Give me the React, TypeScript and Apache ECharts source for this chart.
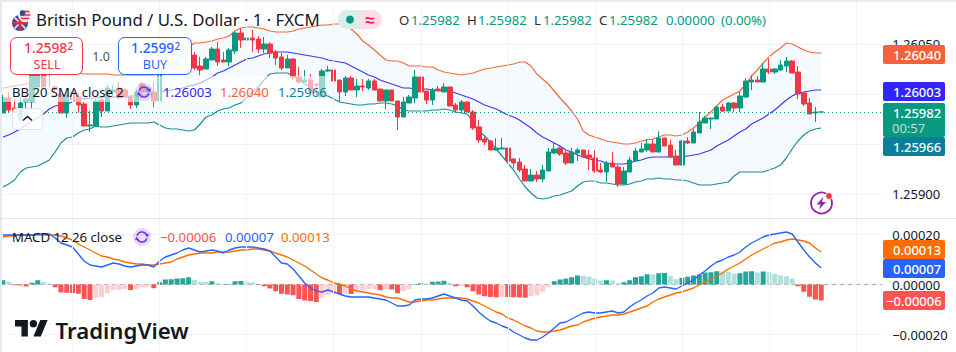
import React, { useEffect, useRef } from "react";
import * as echarts from "echarts";

// Prices are stored as points (1e-5) above PRICE_BASE; MACD values in units of 1e-6.
const PRICE_BASE = 1.258;
const ohlcPoints: number[][] = [
[181,196,181,199],[196,184,181,202],[186,182,180,195],[174,191,172,197],[192,195,182,199],[192,224,184,226],[207,226,207,228],[224,207,207,228],[224,226,207,228],[207,205,202,209],
[200,181,181,204],[181,199,176,206],[202,194,194,206],[197,189,181,201],[190,168,168,192],[168,169,162,183],[168,193,168,195],[194,183,177,197],[183,206,183,209],[202,204,198,209],
[206,196,196,212],[204,197,197,206],[197,189,185,198],[189,202,186,204],[210,202,200,212],[202,206,200,208],[202,193,187,212],[193,224,193,226],[224,232,222,236],[234,226,224,238],
[226,239,224,242],[236,244,234,247],[244,238,236,247],[239,226,224,242],[228,224,219,237],[225,235,225,237],[234,245,234,247],[245,232,228,252],[234,232,232,242],[232,244,228,246],
[243,261,240,263],[261,254,246,266],[254,256,243,266],[256,254,242,264],[255,245,241,258],[245,250,241,257],[250,241,236,252],[242,236,229,244],[237,226,224,241],[226,235,226,239],
[235,217,214,236],[217,212,210,227],[212,214,212,224],[214,202,199,220],[210,209,197,210],[197,223,197,225],[223,224,222,228],[224,213,213,228],[214,202,192,214],[202,216,198,218],
[216,204,204,218],[204,208,197,215],[208,207,203,215],[206,213,204,215],[213,204,204,215],[205,193,193,205],[193,204,185,204],[204,193,193,204],[193,177,164,193],[177,192,177,197],
[191,197,191,199],[196,217,191,224],[217,202,202,217],[203,194,190,203],[194,204,189,206],[205,203,203,208],[202,207,202,211],[207,188,188,207],[189,184,181,191],[184,192,181,194],
[192,182,182,192],[182,166,164,184],[167,154,151,174],[155,152,149,157],[153,144,144,154],[144,146,144,156],[145,146,145,156],[146,133,133,146],[135,131,126,136],[132,124,122,136],
[125,113,113,129],[113,119,113,125],[119,115,112,123],[115,124,112,129],[123,142,123,146],[141,145,140,151],[146,140,138,148],[141,131,129,143],[131,142,131,146],[141,144,133,146],
[144,137,137,144],[139,136,124,144],[136,123,121,144],[124,122,121,131],[122,131,112,133],[131,127,127,142],[127,110,107,129],[110,123,110,127],[122,134,122,137],[133,143,133,146],
[142,145,142,151],[144,150,142,155],[150,142,142,155],[142,156,142,163],[156,148,148,156],[149,137,137,154],[138,129,129,144],[129,153,129,154],[153,151,150,157],[151,162,151,165],
[161,172,161,182],[171,176,171,178],[175,176,165,176],[175,187,175,188],[187,183,182,190],[183,191,183,192],[191,186,182,192],[186,198,182,202],[197,213,196,216],[212,214,204,219],
[214,212,212,218],[212,225,212,231],[225,222,220,235],[222,225,220,226],[224,229,223,234],[228,233,222,237],[233,221,221,234],[222,200,195,228],[201,190,188,202],[191,180,180,196],
[181,182,172,187],[182,182,182,182],
];
const bbUpperPoints = [
206,207,208,209,210,212,215,218,220,221,
222,222,221,221,220,220,220,220,220,219,
219,219,219,219,219,219,219,222,226,232,
236,242,247,251,251,252,253,255,256,258,
263,266,267,267,266,265,263,262,262,262,
263,265,266,267,268,269,269,270,270,269,
265,260,253,249,244,239,234,233,233,231,
228,228,228,227,227,224,222,221,220,219,
220,221,223,225,226,227,228,229,230,232,
232,228,220,215,210,203,196,190,183,175,
163,159,157,155,153,152,151,150,150,151,
153,154,155,157,159,159,158,159,162,166,
171,177,182,188,194,197,200,203,210,218,
224,231,237,242,246,251,250,247,244,242,
241,241];
const bbBasisPoints = [
157,159,162,165,169,173,176,180,185,188,
189,190,192,195,195,196,196,197,197,197,
197,197,198,198,199,199,201,202,203,204,
205,206,208,209,211,214,217,221,223,226,
229,232,235,236,238,240,241,242,242,242,
241,240,239,238,237,236,234,233,232,231,
228,225,222,219,217,214,212,210,208,206,
206,205,205,205,204,204,204,203,201,199,
197,195,192,189,187,185,182,179,177,174,
170,166,161,157,154,151,148,144,142,139,
137,135,134,133,131,130,130,130,131,133,
134,136,137,137,137,137,137,137,138,139,
140,142,144,148,151,154,158,162,165,170,
173,176,180,184,189,194,198,201,202,203,
204,204];
const bbLowerPoints = [
107,110,114,122,126,127,128,131,134,142,
151,156,157,161,164,165,168,167,167,168,
169,170,171,171,171,171,172,169,166,165,
165,164,163,164,170,177,179,183,185,186,
189,191,196,202,207,214,220,221,221,221,
218,214,210,207,203,199,198,195,192,191,
190,189,189,190,190,191,191,190,188,184,
183,183,183,183,184,184,185,184,182,181,
180,172,163,158,152,145,138,131,124,115,
107,101,96,95,96,98,99,101,103,108,
112,113,113,111,111,110,109,109,110,112,
113,115,115,116,115,115,114,114,113,111,
109,109,109,110,111,112,118,122,122,122,
122,122,124,126,129,136,145,153,159,163,
165,166];
const macdLine = [
198,198,198,198,198,198,202,202,202,186,
166,158,150,122,94,78,74,70,78,86,
82,74,70,74,78,78,70,94,110,118,
126,138,146,138,130,134,138,134,126,138,
146,150,150,150,146,142,134,110,86,82,
62,34,6,-14,-26,-30,-22,-30,-38,-46,
-50,-50,-50,-50,-54,-58,-62,-74,-86,-86,
-82,-62,-58,-58,-54,-46,-38,-46,-54,-62,
-66,-86,-110,-130,-146,-154,-166,-174,-190,-202,
-214,-222,-222,-210,-194,-174,-154,-150,-138,-126,
-114,-110,-114,-114,-110,-106,-114,-110,-90,-74,
-62,-46,-34,-14,-10,-14,-18,-6,6,18,
38,54,74,90,98,110,118,130,150,166,
178,190,198,202,206,210,202,170,138,110,
86,66];
const signalLine = [
190,194,194,198,198,198,198,198,198,198,
194,186,178,162,150,138,126,114,110,102,
98,90,86,82,82,78,78,82,86,90,
102,110,118,122,126,126,126,130,130,130,
134,138,138,142,142,138,134,126,118,110,
98,86,74,58,42,26,18,6,2,-6,
-18,-26,-30,-34,-38,-42,-50,-54,-54,-62,
-70,-70,-66,-62,-62,-58,-54,-54,-54,-54,
-58,-66,-74,-86,-98,-110,-118,-134,-142,-154,
-166,-174,-186,-190,-190,-186,-182,-174,-166,-162,
-150,-142,-134,-130,-126,-122,-122,-118,-110,-102,
-94,-86,-70,-58,-50,-42,-34,-30,-22,-14,
-2,10,22,34,46,62,74,86,102,118,
130,142,154,166,170,178,182,178,174,166,
146,130];
const histogram = [
17,11,-3,-4,-8,7,17,9,4,-11,
-32,-33,-34,-37,-58,-62,-53,-50,-34,-22,
-21,-18,-22,-18,-11,-9,-15,9,20,21,
24,25,29,19,11,10,13,5,-1,2,
13,14,11,8,-1,-7,-16,-27,-37,-40,
-43,-58,-64,-66,-70,-53,-43,-37,-38,-37,
-38,-24,-23,-19,-18,-23,-19,-20,-35,-27,
-19,2,5,4,11,12,15,5,-7,-6,
-11,-27,-40,-47,-50,-51,-49,-50,-51,-52,
-53,-47,-43,-29,-11,13,20,24,29,36,
35,32,24,16,17,16,5,9,17,29,
33,41,40,45,46,33,21,27,31,36,
40,48,49,53,52,51,44,45,52,53,
48,52,49,43,37,33,23,-7,-29,-49,
-60,-64];
const BLANK_BARS = 10;
const verticalGridBars = [12, 27, 42, 57, 72, 87, 102, 117, 132, 147];
const LAST_PRICE = 1.25982;
const coveredPriceTicks = ["1.26000", "1.25950"];
const priceTags = [
  { text: "1.26040", top: 45, h: 19, bg: "#f56138" },
  { text: "1.26003", top: 82, h: 19, bg: "#3024ff" },
  { text: "1.25966", top: 137, h: 19, bg: "#0b7f99" },
];
const macdTags = [
  { text: "0.00013", top: 240, h: 19, bg: "#ff6d00" },
  { text: "0.00007", top: 259, h: 19, bg: "#2962ff" },
  { text: "\u22120.00006", top: 291, h: 19, bg: "#ff5252" },
];

const FONT = '"Noto Sans", sans-serif';
const UP = "#089981";
const DOWN = "#f23645";
const GRID = "#f0f3fa";

echarts.graphic.registerShape(
  "tvlogo",
  echarts.graphic.extendPath("M14 22H7V11H0V4h14v18zM28 22h-8l7.5-18h8L28 22zM24 8a4 4 0 1 1-8 0a4 4 0 1 1 8 0z", {}) as any
);

function t(text: string, x: number, y: number, fill: string, size = 13, extra: any = {}) {
  const { align, weight, opacity, z, spacing } = extra;
  return {
    type: "text", x, y, z: z ?? 110, silent: true,
    style: {
      text, fill, opacity: opacity ?? 1, textAlign: align ?? "left", textVerticalAlign: "middle",
      font: `${weight ?? 400} ${size}px ${FONT}`, ...(spacing ? { letterSpacing: spacing } : {}),
    },
  };
}
function box(x: number, y: number, w: number, h: number, fill: string, stroke?: string, r = 2, z = 105) {
  return {
    type: "rect", z, silent: true, shape: { x, y, width: w, height: h, r },
    style: { fill, stroke: stroke ?? "none", lineWidth: stroke ? 1 : 0 },
  };
}
function cycleIcon(cx: number, cy: number) {
  const stroke = "#7b2ff2";
  return [
    { type: "circle", z: 108, silent: true, shape: { cx, cy, r: 9 }, style: { fill: "rgba(126,87,194,0.2)" } },
    { type: "arc", z: 109, silent: true, shape: { cx, cy, r: 5, startAngle: 3.4, endAngle: 5.9 }, style: { fill: "none", stroke, lineWidth: 1.6 } },
    { type: "arc", z: 109, silent: true, shape: { cx, cy, r: 5, startAngle: 0.3, endAngle: 2.8 }, style: { fill: "none", stroke, lineWidth: 1.6 } },
    { type: "polygon", z: 109, silent: true, shape: { points: [[cx + 7, cy - 3], [cx + 3, cy - 3], [cx + 5.5, cy + 0.5]] }, style: { fill: stroke } },
    { type: "polygon", z: 109, silent: true, shape: { points: [[cx - 7, cy + 3], [cx - 3, cy + 3], [cx - 5.5, cy - 0.5]] }, style: { fill: stroke } },
  ];
}

function buildGraphics() {
  const out: any[] = [];
  // page edge
  out.push(box(0, 0, 956, 2, "#e8e9ec", undefined, 0, 120));
  out.push(box(0, 0, 2, 352, "#e8e9ec", undefined, 0, 120));
  out.push(box(0, 218, 956, 1, "#e0e3eb", undefined, 0, 90));
  // header flags
  out.push({ type: "circle", z: 110, silent: true, shape: { cx: 20, cy: 23, r: 8 }, style: { fill: "#2a4b9b" } });
  out.push({ type: "line", z: 111, silent: true, shape: { x1: 14.5, y1: 17.5, x2: 25.5, y2: 28.5 }, style: { stroke: "#f4c7cc", lineWidth: 2 } });
  out.push({ type: "line", z: 111, silent: true, shape: { x1: 25.5, y1: 17.5, x2: 14.5, y2: 28.5 }, style: { stroke: "#f4c7cc", lineWidth: 2 } });
  out.push({ type: "line", z: 111, silent: true, shape: { x1: 20, y1: 15, x2: 20, y2: 31 }, style: { stroke: "#d9313f", lineWidth: 2.5 } });
  out.push({ type: "line", z: 111, silent: true, shape: { x1: 12, y1: 23, x2: 28, y2: 23 }, style: { stroke: "#d9313f", lineWidth: 2.5 } });
  out.push({ type: "circle", z: 112, silent: true, shape: { cx: 25, cy: 15, r: 6.5 }, style: { fill: "#fff", stroke: "#fff", lineWidth: 1 } });
  out.push({ type: "circle", z: 113, silent: true, shape: { cx: 25, cy: 15, r: 5.5 }, style: { fill: "#f0d9dc" } });
  out.push({ type: "line", z: 114, silent: true, shape: { x1: 22, y1: 11.5, x2: 29.5, y2: 11.5 }, style: { stroke: "#d9313f", lineWidth: 1.4 } });
  out.push({ type: "line", z: 114, silent: true, shape: { x1: 20, y1: 15, x2: 30.5, y2: 15 }, style: { stroke: "#d9313f", lineWidth: 1.4 } });
  out.push({ type: "line", z: 114, silent: true, shape: { x1: 21, y1: 18.5, x2: 29.5, y2: 18.5 }, style: { stroke: "#d9313f", lineWidth: 1.4 } });
  out.push({ type: "circle", z: 115, silent: true, shape: { cx: 22.5, cy: 13, r: 2.8 }, style: { fill: "#2a4b9b" } });
  out.push(t("British Pound / U.S. Dollar \u00b7 1 \u00b7 FXCM", 36, 19.5, "#131722", 16.8));
  // status pill
  out.push({ type: "rect", z: 106, silent: true, shape: { x: 338, y: 10, width: 44, height: 19, r: 9.5 }, style: { fill: "#fbdde8" } });
  out.push({ type: "rect", z: 107, silent: true, shape: { x: 338, y: 10, width: 22, height: 19, r: [9.5, 0, 0, 9.5] }, style: { fill: "#d8eeea" } });
  out.push({ type: "circle", z: 108, silent: true, shape: { cx: 350, cy: 19.5, r: 4 }, style: { fill: UP } });
  out.push(t("\u2248", 370, 19, "#e91e63", 17, { align: "center", weight: 700 }));
  // OHLC row
  const labels: [string, number, string][] = [
    ["O", 399, "#2a2e39"], ["1.25982", 411, UP], ["H", 467, "#2a2e39"], ["1.25982", 478, UP],
    ["L", 534, "#2a2e39"], ["1.25982", 543, UP], ["C", 599, "#2a2e39"], ["1.25982", 609, UP],
    ["0.00000", 666, UP], ["(0.00%)", 721, UP],
  ];
  labels.forEach(([s, x, c]) => out.push(t(s, x, 20, c, 13.2)));
  // sell / buy
  out.push(box(10.5, 37.5, 72, 37, "rgba(255,255,255,0.96)", "#f23645", 6));
  out.push(t("1.2598", 24, 47.5, "#f23645", 13.8, { weight: 500 }));
  out.push(t("2", 67.5, 46, "#f23645", 10, { weight: 500 }));
  out.push(t("SELL", 47, 64, "#f23645", 12.5, { align: "center" }));
  out.push(t("1.0", 101, 56, "#50535e", 12.5, { align: "center" }));
  out.push(box(118.5, 37.5, 73, 37, "rgba(255,255,255,0.96)", "#2962ff", 6));
  out.push(t("1.2599", 131, 47.5, "#2962ff", 13.8, { weight: 500 }));
  out.push(t("2", 174.5, 46, "#2962ff", 10, { weight: 500 }));
  out.push(t("BUY", 155, 64, "#2962ff", 12.5, { align: "center" }));
  // BB legend
  out.push(box(3, 76, 322, 26, "rgba(255,255,255,0.6)", undefined, 0, 100));
  out.push(t("BB 20 SMA close 2", 12, 92, "#131722", 13.1));
  out.push(...cycleIcon(144, 92));
  out.push(t("1.26003", 163, 92, "#3024ff", 13.2));
  out.push(t("1.26040", 220, 92, "#f56138", 13.2));
  out.push(t("1.25966", 278, 92, "#0b7f99", 13.2));
  // chevron
  out.push(box(12.5, 108.5, 30, 21, "rgba(255,255,255,0.85)", "#e0e3eb", 4));
  out.push({ type: "polyline", z: 110, silent: true, shape: { points: [[23, 120.5], [27.5, 116.5], [32, 120.5]] }, style: { fill: "none", stroke: "#131722", lineWidth: 1.5 } });
  // macd legend
  out.push(t("MACD 12 26 close", 12, 237, "#131722", 13.2));
  out.push(...cycleIcon(142, 237));
  out.push(t("\u22120.00006", 160, 237, "#ff5252", 13.2));
  out.push(t("0.00007", 225, 237, "#2962ff", 13.2));
  out.push(t("0.00013", 281, 237, "#ff6d00", 13.2));
  // logo
  out.push({ type: "tvlogo", z: 110, silent: true, x: 15, y: 316.3, scaleX: 0.92, scaleY: 0.92, style: { fill: "#131722" } });
  out.push(t("TradingView", 55.5, 330, "#131722", 22.2, { weight: 600 }));
  // lightning icon
  out.push({ type: "circle", z: 110, silent: true, shape: { cx: 821.5, cy: 203, r: 10.5 }, style: { fill: "#fff", stroke: "#8e24aa", lineWidth: 1.8 } });
  out.push({ type: "polygon", z: 111, silent: true, shape: { points: [[823.5, 197], [816.5, 204.5], [820.5, 204.5], [819, 209.5], [826, 202], [822, 202]] }, style: { fill: "#8e24aa" } });
  out.push({ type: "circle", z: 112, silent: true, shape: { cx: 829, cy: 196, r: 3.4 }, style: { fill: "#f23645", stroke: "#fff", lineWidth: 1 } });
  // tags
  [...priceTags, ...macdTags].forEach((tag) => {
    const neg = tag.text.startsWith("\u2212");
    out.push(box(883, tag.top, 62, tag.h, tag.bg));
    out.push(t(tag.text, neg ? 886 : 893, tag.top + tag.h / 2, "#fff", 13, { weight: 500 }));
  });
  out.push(box(883, 103, 62, 34, UP));
  out.push(t("1.25982", 893, 113, "#fff", 13, { weight: 500 }));
  out.push(t("00:57", 892, 128, "rgba(255,255,255,0.72)", 13));
  return out;
}

export default function App() {
  const ref = useRef<HTMLDivElement>(null);
  useEffect(() => {
    document.body.style.margin = "0";
    const chart = echarts.init(ref.current!, undefined, { renderer: "svg" });
    const n = ohlcPoints.length + BLANK_BARS;
    const cats = Array.from({ length: n }, (_, i) => String(i));
    const price = (p: number) => +(PRICE_BASE + p / 100000).toFixed(5);
    const micro = (v: number) => +(v * 1e-6).toFixed(6);
    const color = (i: number) => {
      const v = histogram[i];
      const prev = i > 0 ? histogram[i - 1] : 0;
      if (v >= 0) return v >= prev ? "#26a69a" : "#b2dfdb";
      return v < prev ? "#ff5252" : "#ffcdd2";
    };
    const xAxisBase = { type: "category", data: cats, boundaryGap: true, axisLine: { show: false }, axisTick: { show: false }, axisLabel: { show: false }, splitLine: { show: false } };
    const yAxisBase = {
      type: "value", position: "right", scale: true, axisLine: { show: false }, axisTick: { show: false },
      splitLine: { show: true, showMinLine: false, showMaxLine: false, lineStyle: { color: GRID, width: 1 } },
      axisLabel: {
        show: true, showMinLabel: false, showMaxLabel: false, margin: 10, color: "#131722", fontSize: 13, fontFamily: FONT,
        formatter: (v: number) => {
          const s = (v < 0 ? "\u2212" : "") + Math.abs(v).toFixed(5);
          return coveredPriceTicks.includes(s) ? "" : s;
        },
      },
    };
    const vLines = { silent: true, symbol: "none", label: { show: false }, animation: false, lineStyle: { color: GRID, width: 1, type: "solid" }, data: verticalGridBars.map((b) => ({ xAxis: b })) };
    chart.setOption({
      animation: false,
      backgroundColor: "#fff",
      grid: [
        { left: -2.5, top: 2, width: n * 5.82, height: 216, containLabel: false },
        { left: -2.5, top: 219, width: n * 5.82, height: 133, containLabel: false },
      ],
      xAxis: [{ ...xAxisBase, gridIndex: 0 }, { ...xAxisBase, gridIndex: 1 }],
      yAxis: [
        { ...yAxisBase, gridIndex: 0, min: 1.25876, max: 1.26092, splitNumber: 4 },
        { ...yAxisBase, gridIndex: 1, min: -0.00027, max: 0.000262, splitNumber: 3 },
      ],
      graphic: { elements: buildGraphics() },
      series: [
        {
          name: "BB lower", type: "line", xAxisIndex: 0, yAxisIndex: 0, stack: "bb", z: 2, showSymbol: false, silent: true,
          data: bbLowerPoints.map(price), lineStyle: { color: "#1f8a9a", width: 1.2 }, markLine: { ...vLines },
        },
        {
          name: "BB band", type: "line", xAxisIndex: 0, yAxisIndex: 0, stack: "bb", z: 1, showSymbol: false, silent: true,
          data: bbUpperPoints.map((u, i) => (u - bbLowerPoints[i]) / 100000), lineStyle: { width: 0 }, areaStyle: { color: "#f5faff", opacity: 1 },
        },
        { name: "BB upper", type: "line", xAxisIndex: 0, yAxisIndex: 0, z: 2, showSymbol: false, silent: true, data: bbUpperPoints.map(price), lineStyle: { color: "#f4683c", width: 1.2 } },
        { name: "BB basis", type: "line", xAxisIndex: 0, yAxisIndex: 0, z: 2, showSymbol: false, silent: true, data: bbBasisPoints.map(price), lineStyle: { color: "#3f35ff", width: 1.2 } },
        {
          name: "GBPUSD", type: "candlestick", xAxisIndex: 0, yAxisIndex: 0, z: 4, barWidth: 5, silent: true,
          data: ohlcPoints.map((r) => r.map(price)),
          itemStyle: { color: UP, color0: DOWN, borderColor: UP, borderColor0: DOWN, borderWidth: 1 },
          markLine: { silent: true, symbol: "none", precision: 5, label: { show: false }, lineStyle: { color: UP, width: 1, type: [1, 3] }, data: [{ yAxis: LAST_PRICE }] },
        },
        {
          name: "Histogram", type: "bar", xAxisIndex: 1, yAxisIndex: 1, z: 3, barWidth: 5, silent: true,
          data: histogram.map((v, i) => ({ value: micro(v), itemStyle: { color: color(i) } })),
          markLine: { silent: true, symbol: "none", z: 1, label: { show: false }, lineStyle: { color: "#a9abb3", width: 1, type: [4, 4] }, data: [{ yAxis: 0 }] },
        },
        {
          name: "grid", type: "line", xAxisIndex: 1, yAxisIndex: 1, z: 1, showSymbol: false, silent: true, data: [], markLine: { ...vLines },
        },
        { name: "Signal", type: "line", xAxisIndex: 1, yAxisIndex: 1, z: 4, showSymbol: false, silent: true, data: signalLine.map(micro), lineStyle: { color: "#ff6d00", width: 1.4 } },
        { name: "MACD", type: "line", xAxisIndex: 1, yAxisIndex: 1, z: 4, showSymbol: false, silent: true, data: macdLine.map(micro), lineStyle: { color: "#2962ff", width: 1.4 } },
      ],
    });
    return () => chart.dispose();
  }, []);
  return <div ref={ref} style={{ position: "absolute", left: 0, top: 0, width: 956, height: 352 }} />;
}
